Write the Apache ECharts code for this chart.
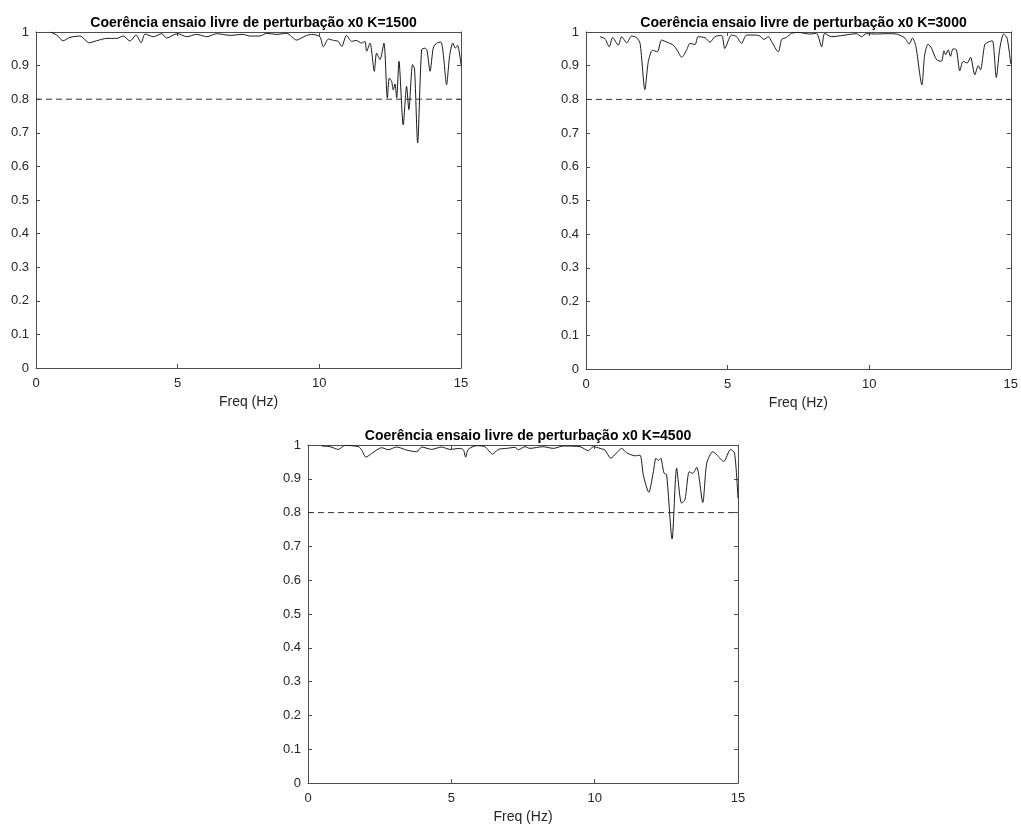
<!DOCTYPE html>
<html>
<head>
<meta charset="utf-8">
<title>Coerência ensaio livre de perturbação</title>
<script src="https://cdn.jsdelivr.net/npm/echarts@6/dist/echarts.min.js"></script>
<style>
  html, body { margin: 0; padding: 0; background: #fff; }
  #chart { width: 1021px; height: 825px; }
</style>
</head>
<body>
<div id="chart"></div>
<script>
// dados: frequência (Hz) e coerência
const titles = [
  'Coerência ensaio livre de perturbação x0 K=1500',
  'Coerência ensaio livre de perturbação x0 K=3000',
  'Coerência ensaio livre de perturbação x0 K=4500'
]
const xTicks = [0, 5, 10, 15]
const yTicks = [0, 0.1, 0.2, 0.3, 0.4, 0.5, 0.6, 0.7, 0.8, 0.9, 1]
const threshold = 0.8

const freqK1500 = [0.5, 0.73, 0.96, 1.2, 1.55, 1.88, 2.14, 2.5, 2.85, 3.08, 3.32, 3.53, 3.71, 3.85, 4.14, 4.44, 4.61, 4.85, 5.0, 5.32,
  5.67, 6.03, 6.38, 6.85, 7.3, 7.55, 7.9, 8.14, 8.5, 8.85, 9.2, 9.5, 9.73, 10.02, 10.14, 10.32, 10.5, 10.67, 10.79, 10.96,
  11.14, 11.3, 11.49, 11.61, 11.67, 11.79, 11.94, 12.02, 12.14, 12.28, 12.4, 12.47, 12.55, 12.61, 12.67, 12.73, 12.81, 12.96, 13.08, 13.16,
  13.29, 13.36, 13.47, 13.61, 13.73, 13.8, 13.91, 14.02, 14.14, 14.29, 14.38, 14.49, 14.6, 14.71, 14.8, 14.88, 15.0]
const cohK1500 = [1.0, 0.991, 0.974, 0.984, 0.988, 0.968, 0.974, 0.981, 0.981, 0.988, 0.973, 0.991, 0.968, 0.994, 0.986, 0.995, 0.982, 0.991, 0.995, 0.986,
  0.993, 0.986, 0.995, 0.99, 0.993, 0.988, 0.988, 0.996, 0.993, 0.996, 0.976, 0.988, 0.993, 0.986, 0.956, 0.979, 0.975, 0.972, 0.957, 0.99,
  0.972, 0.975, 0.967, 0.972, 0.943, 0.967, 0.883, 0.937, 0.918, 0.967, 0.804, 0.863, 0.853, 0.828, 0.845, 0.804, 0.913, 0.724, 0.838, 0.769,
  0.903, 0.89, 0.67, 0.947, 0.952, 0.945, 0.883, 0.952, 0.967, 0.97, 0.93, 0.843, 0.93, 0.967, 0.952, 0.96, 0.903]

const freqK3000 = [0.49, 0.67, 0.82, 0.94, 1.14, 1.26, 1.44, 1.61, 1.79, 1.91, 2.08, 2.2, 2.35, 2.52, 2.67, 2.91, 3.08, 3.22, 3.38, 3.55,
  3.67, 3.85, 3.96, 4.2, 4.38, 4.55, 4.79, 4.9, 5.14, 5.32, 5.49, 5.67, 5.96, 6.14, 6.28, 6.44, 6.55, 6.79, 6.91, 7.08,
  7.26, 7.49, 7.9, 8.14, 8.32, 8.43, 8.67, 9.08, 9.55, 9.73, 9.9, 10.26, 10.61, 10.96, 11.26, 11.41, 11.53, 11.65, 11.86, 11.96,
  12.08, 12.2, 12.38, 12.55, 12.64, 12.7, 12.79, 12.87, 12.96, 13.08, 13.2, 13.32, 13.46, 13.58, 13.73, 13.85, 13.93, 14.08, 14.2, 14.35,
  14.49, 14.61, 14.75, 14.87, 15.0]
const cohK3000 = [0.986, 0.98, 0.956, 0.984, 0.961, 0.986, 0.968, 0.988, 0.983, 0.966, 0.829, 0.912, 0.946, 0.941, 0.976, 0.968, 0.961, 0.946, 0.925, 0.946,
  0.966, 0.963, 0.986, 0.983, 0.97, 0.986, 0.99, 0.951, 0.991, 0.986, 0.966, 0.991, 0.991, 0.988, 0.978, 0.986, 0.972, 0.941, 0.978, 0.984,
  0.996, 0.999, 0.994, 0.996, 0.956, 0.996, 0.986, 0.99, 0.995, 0.986, 0.995, 0.994, 0.995, 0.994, 0.982, 0.964, 0.982, 0.957, 0.843, 0.932,
  0.964, 0.952, 0.918, 0.913, 0.944, 0.933, 0.947, 0.928, 0.95, 0.947, 0.885, 0.913, 0.908, 0.925, 0.873, 0.9, 0.888, 0.962, 0.97, 0.974,
  0.865, 0.95, 0.994, 0.982, 0.905]

const freqK4500 = [0.48, 0.77, 1.06, 1.29, 1.76, 1.87, 2.02, 2.22, 2.57, 2.8, 3.09, 3.44, 3.79, 3.97, 4.31, 4.66, 4.95, 5.3, 5.42, 5.5,
  5.59, 5.88, 6.17, 6.44, 6.64, 6.93, 7.22, 7.34, 7.57, 7.74, 8.2, 8.56, 8.9, 9.49, 9.78, 9.95, 10.19, 10.36, 10.56, 10.77,
  10.94, 11.12, 11.41, 11.58, 11.7, 11.89, 12.04, 12.14, 12.22, 12.3, 12.42, 12.51, 12.7, 12.86, 13.03, 13.15, 13.3, 13.42, 13.56, 13.77,
  13.91, 14.12, 14.26, 14.5, 14.74, 14.88, 15.0]
const cohK4500 = [0.997, 0.995, 0.987, 0.999, 0.995, 0.986, 0.964, 0.975, 0.992, 0.986, 0.994, 0.985, 0.98, 0.994, 0.987, 0.994, 0.987, 0.99, 0.986, 0.964,
  0.987, 0.998, 0.995, 0.973, 0.987, 0.99, 0.993, 0.986, 0.995, 0.99, 0.995, 0.99, 0.997, 0.995, 0.983, 0.995, 0.99, 0.985, 0.961, 0.977,
  0.99, 0.977, 0.968, 0.97, 0.91, 0.86, 0.917, 0.961, 0.954, 0.961, 0.917, 0.912, 0.722, 0.931, 0.828, 0.838, 0.921, 0.916, 0.934, 0.83,
  0.946, 0.98, 0.971, 0.951, 0.987, 0.976, 0.842]

const freqs = [freqK1500, freqK3000, freqK4500]
const cohs = [cohK1500, cohK3000, cohK4500]

// posições dos três eixos (px)
const grids = [
  { left: 36, top: 32, width: 425, height: 336 },
  { left: 586, top: 32, width: 425, height: 337 },
  { left: 308, top: 445, width: 430, height: 339 }
]

const font = 'Liberation Sans, Arial, Helvetica, sans-serif'
const axisColor = '#4d4d4d'
const textColor = '#262626'

const chart = echarts.init(document.getElementById('chart'), null, { renderer: 'canvas' })

const xAxes = []
const yAxes = []
const series = []
const title = []

/**
 * eixo base, estilo MATLAB (caixa com ticks para dentro)
 */
const baseAxis = (gridIndex, position, showLabel) => ({
  type: 'value',
  gridIndex: gridIndex,
  position: position,
  axisLine: { show: true, onZero: false, lineStyle: { color: axisColor, width: 1 } },
  axisTick: { show: true, inside: true, length: 4, lineStyle: { color: axisColor } },
  axisLabel: showLabel
    ? { fontFamily: font, fontSize: 13, color: textColor, margin: position === 'bottom' ? 9 : 7 }
    : { show: false },
  splitLine: { show: false }
})

grids.forEach((g, i) => {
  title.push({
    text: titles[i],
    left: g.left + g.width / 2,
    top: g.top - 21,
    textAlign: 'center',
    textStyle: { fontFamily: font, fontSize: 14, fontWeight: 'bold', color: '#000' }
  })

  const xMin = xTicks[0]
  const xMax = xTicks[xTicks.length - 1]
  const yMin = yTicks[0]
  const yMax = yTicks[yTicks.length - 1]

  xAxes.push(Object.assign(baseAxis(i, 'bottom', true), {
    min: xMin, max: xMax, interval: 5,
    name: 'Freq (Hz)', nameLocation: 'middle', nameGap: 27,
    nameTextStyle: { fontFamily: font, fontSize: 14, color: textColor }
  }))
  xAxes.push(Object.assign(baseAxis(i, 'top', false), { min: xMin, max: xMax, interval: 5 }))
  yAxes.push(Object.assign(baseAxis(i, 'left', true), { min: yMin, max: yMax, interval: 0.1 }))
  yAxes.push(Object.assign(baseAxis(i, 'right', false), { min: yMin, max: yMax, interval: 0.1 }))

  series.push({
    type: 'line',
    xAxisIndex: i * 2,
    yAxisIndex: i * 2,
    data: freqs[i].map((f, k) => [f, cohs[i][k]]),
    showSymbol: false,
    smooth: 0.25,
    lineStyle: { color: '#1a1a1a', width: 1 },
    z: 3
  })
  // linha de referência 0.8
  series.push({
    type: 'line',
    xAxisIndex: i * 2,
    yAxisIndex: i * 2,
    data: [[xMin, threshold], [xMax, threshold]],
    showSymbol: false,
    lineStyle: { color: '#333', width: 1, type: [6, 4] },
    z: 2
  })
})

const option = {
  animation: false,
  backgroundColor: '#fff',
  title: title,
  grid: grids.map(g => ({ left: g.left, top: g.top, width: g.width, height: g.height, containLabel: false })),
  xAxis: xAxes,
  yAxis: yAxes,
  series: series
}

chart.setOption(option)

window.addEventListener('resize', () => chart.resize())
</script>
</body>
</html>
